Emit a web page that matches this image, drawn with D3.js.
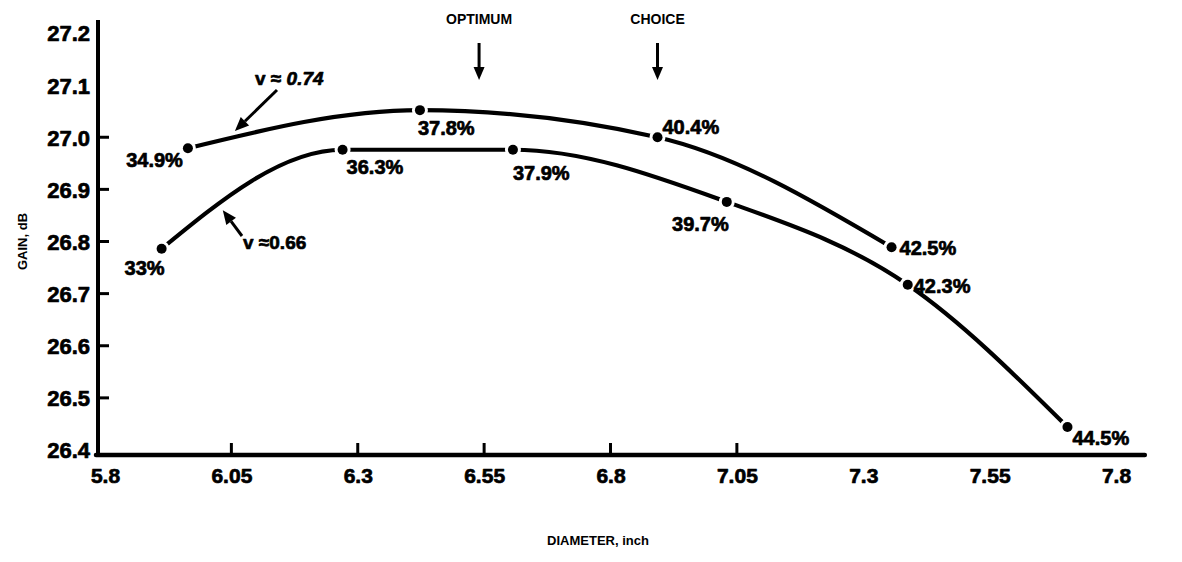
<!DOCTYPE html>
<html>
<head>
<meta charset="utf-8">
<script src="https://cdn.jsdelivr.net/npm/d3@7/dist/d3.min.js"></script>
<style>
  html, body { margin: 0; padding: 0; background: #fff; }
  svg { display: block; }
  text { font-family: "Liberation Sans", Arial, sans-serif; font-weight: bold; fill: #000; }
  .heavy { stroke: #000; stroke-width: 0.7px; stroke-linejoin: round; }
</style>
</head>
<body>
<svg id="chart" width="1182" height="562"></svg>
<script>
// Axis tick values
const diameterTicks = [5.8, 6.05, 6.3, 6.55, 6.8, 7.05, 7.3, 7.55, 7.8];
const gainTicks = [26.4, 26.5, 26.6, 26.7, 26.8, 26.9, 27.0, 27.1, 27.2];
const markedDiameterTicks = [6.05, 6.3, 6.55, 6.8, 7.05];
const markedGainTicks = [26.5, 26.6, 26.7, 26.8, 26.9, 27.0];

// Upper curve, v ≈ 0.74
const upperDiameter = [5.964, 6.423, 6.893, 7.356];
const upperGain = [26.979, 27.052, 27.000, 26.789];
const upperEfficiency = ["34.9%", "37.8%", "40.4%", "42.5%"];

// Lower curve, v ≈ 0.66
const lowerDiameter = [5.912, 6.270, 6.607, 7.030, 7.388, 7.704];
const lowerGain = [26.786, 26.976, 26.976, 26.876, 26.717, 26.444];
const lowerEfficiency = ["33%", "36.3%", "37.9%", "39.7%", "42.3%", "44.5%"];

// Design markers along the diameter axis
const optimumDiameter = 6.54;
const choiceDiameter = 6.893;

// Points on the curves that the v-labels point to
const upperPointer = [6.057, 27.010];
const lowerPointer = [6.033, 26.864];

const svg = d3.select("#chart");

const x = d3.scaleLinear().domain([5.8, 7.8]).range([105, 1116]);
const y = d3.scaleLinear().domain([26.4, 27.2]).range([450, 33]);

const axisX = 98;          // vertical axis position
const baseY = y(26.4) + 5; // horizontal axis position

// Tick labels through d3 axes (domain line and tick lines hidden, drawn heavier below)
const gY = svg.append("g")
  .attr("transform", `translate(${axisX - 6},0)`)
  .call(d3.axisLeft(y).tickValues(gainTicks).tickSize(0).tickPadding(2)
    .tickFormat(d3.format(".1f")));
gY.select(".domain").remove();
gY.selectAll("text")
  .attr("class", "heavy")
  .style("font-family", "'Liberation Sans', Arial, sans-serif")
  .style("font-weight", "bold")
  .style("font-size", "22px")
  .attr("dy", "0.36em")
  .attr("fill", "#000");

const gX = svg.append("g")
  .attr("transform", `translate(0,${baseY + 8})`)
  .call(d3.axisBottom(x).tickValues(diameterTicks).tickSize(0).tickPadding(0)
    .tickFormat(d => String(d)));
gX.select(".domain").remove();
gX.selectAll("text")
  .attr("class", "heavy")
  .style("font-family", "'Liberation Sans', Arial, sans-serif")
  .style("font-weight", "bold")
  .style("font-size", "21px")
  .attr("dy", "0.95em")
  .attr("fill", "#000");

// Axis lines
svg.append("line")
  .attr("x1", axisX).attr("x2", axisX)
  .attr("y1", 20).attr("y2", baseY + 2)
  .attr("stroke", "#000").attr("stroke-width", 4);
svg.append("line")
  .attr("x1", axisX - 2).attr("x2", x(7.857))
  .attr("y1", baseY).attr("y2", baseY)
  .attr("stroke", "#000").attr("stroke-width", 4.5)
  .attr("stroke-linecap", "round");

// Inward tick marks
svg.selectAll(".ytick").data(markedGainTicks).join("line")
  .attr("class", "ytick")
  .attr("x1", axisX).attr("x2", axisX + 11)
  .attr("y1", d => y(d)).attr("y2", d => y(d))
  .attr("stroke", "#000").attr("stroke-width", 3);
svg.selectAll(".xtick").data(markedDiameterTicks).join("line")
  .attr("class", "xtick")
  .attr("x1", d => x(d)).attr("x2", d => x(d))
  .attr("y1", baseY).attr("y2", baseY - 12)
  .attr("stroke", "#000").attr("stroke-width", 3);

// Axis titles
svg.append("text")
  .attr("transform", `translate(27,${y(26.8)}) rotate(-90)`)
  .attr("text-anchor", "middle")
  .style("font-size", "13px")
  .text("GAIN, dB");
svg.append("text")
  .attr("x", 598).attr("y", 545)
  .attr("text-anchor", "middle")
  .style("font-size", "13px")
  .text("DIAMETER, inch");

// Curves
const line = d3.line()
  .x(d => x(d[0])).y(d => y(d[1]))
  .curve(d3.curveMonotoneX);

const upper = upperDiameter.map((d, i) => [d, upperGain[i]]);
const lower = lowerDiameter.map((d, i) => [d, lowerGain[i]]);

[upper, lower].forEach(pts => {
  svg.append("path")
    .attr("d", line(pts))
    .attr("fill", "none")
    .attr("stroke", "#000")
    .attr("stroke-width", 4.2)
    .attr("stroke-linecap", "round");
});

// Dots with a white rim that opens a gap in the curve
[upper, lower].forEach(pts => {
  svg.selectAll(null).data(pts).join("circle")
    .attr("cx", d => x(d[0])).attr("cy", d => y(d[1]))
    .attr("r", 5)
    .attr("fill", "#000")
    .attr("stroke", "#fff")
    .attr("stroke-width", 6)
    .attr("paint-order", "stroke");
});

// Efficiency labels: [dx, dy, anchor] relative to each dot
const upperPlacement = [[-5, 19, "end"], [-2, 25, "start"], [5, -3, "start"], [8, 8, "start"]];
const lowerPlacement = [[-17, 26, "middle"], [4, 24, "start"], [0, 30, "start"], [2, 29, "end"], [6, 8, "start"], [5, 18, "start"]];

function labelSeries(pts, labels, placement) {
  svg.selectAll(null).data(pts).join("text")
    .attr("class", "heavy")
    .attr("x", (d, i) => x(d[0]) + placement[i][0])
    .attr("y", (d, i) => y(d[1]) + placement[i][1])
    .attr("text-anchor", (d, i) => placement[i][2])
    .style("font-size", "20px")
    .text((d, i) => labels[i]);
}
labelSeries(upper, upperEfficiency, upperPlacement);
labelSeries(lower, lowerEfficiency, lowerPlacement);

// Arrow helper: straight shaft with a filled triangular head at the tip
function arrow(x1, y1, x2, y2, headLen, headW) {
  const a = Math.atan2(y2 - y1, x2 - x1);
  const bx = x2 - headLen * Math.cos(a), by = y2 - headLen * Math.sin(a);
  svg.append("line")
    .attr("x1", x1).attr("y1", y1).attr("x2", bx).attr("y2", by)
    .attr("stroke", "#000").attr("stroke-width", 3);
  const px = -Math.sin(a) * headW / 2, py = Math.cos(a) * headW / 2;
  svg.append("path")
    .attr("d", `M${x2},${y2}L${bx + px},${by + py}L${bx - px},${by - py}Z`)
    .attr("fill", "#000");
}

// OPTIMUM / CHOICE markers
[[optimumDiameter, "OPTIMUM"], [choiceDiameter, "CHOICE"]].forEach(([d, t]) => {
  svg.append("text")
    .attr("x", x(d)).attr("y", 24)
    .attr("text-anchor", "middle")
    .style("font-size", "14px")
    .text(t);
  arrow(x(d), 43, x(d), 80, 13, 11);
});

// v labels with pointers to their curves
const vUpper = svg.append("text").attr("class", "heavy")
  .attr("x", 255).attr("y", 85).style("font-size", "19px");
vUpper.append("tspan").text("v ");
vUpper.append("tspan").text("≈");
vUpper.append("tspan").style("font-style", "italic").text(" 0.74");
arrow(277, 90, x(upperPointer[0]), y(upperPointer[1]) - 1, 14, 12);

const vLower = svg.append("text").attr("class", "heavy")
  .attr("x", 243).attr("y", 249).style("font-size", "19px");
vLower.append("tspan").text("v ");
vLower.append("tspan").text("≈");
vLower.append("tspan").text("0.66");
arrow(242, 236, x(lowerPointer[0]), y(lowerPointer[1]) + 2, 14, 12);
</script>
</body>
</html>
